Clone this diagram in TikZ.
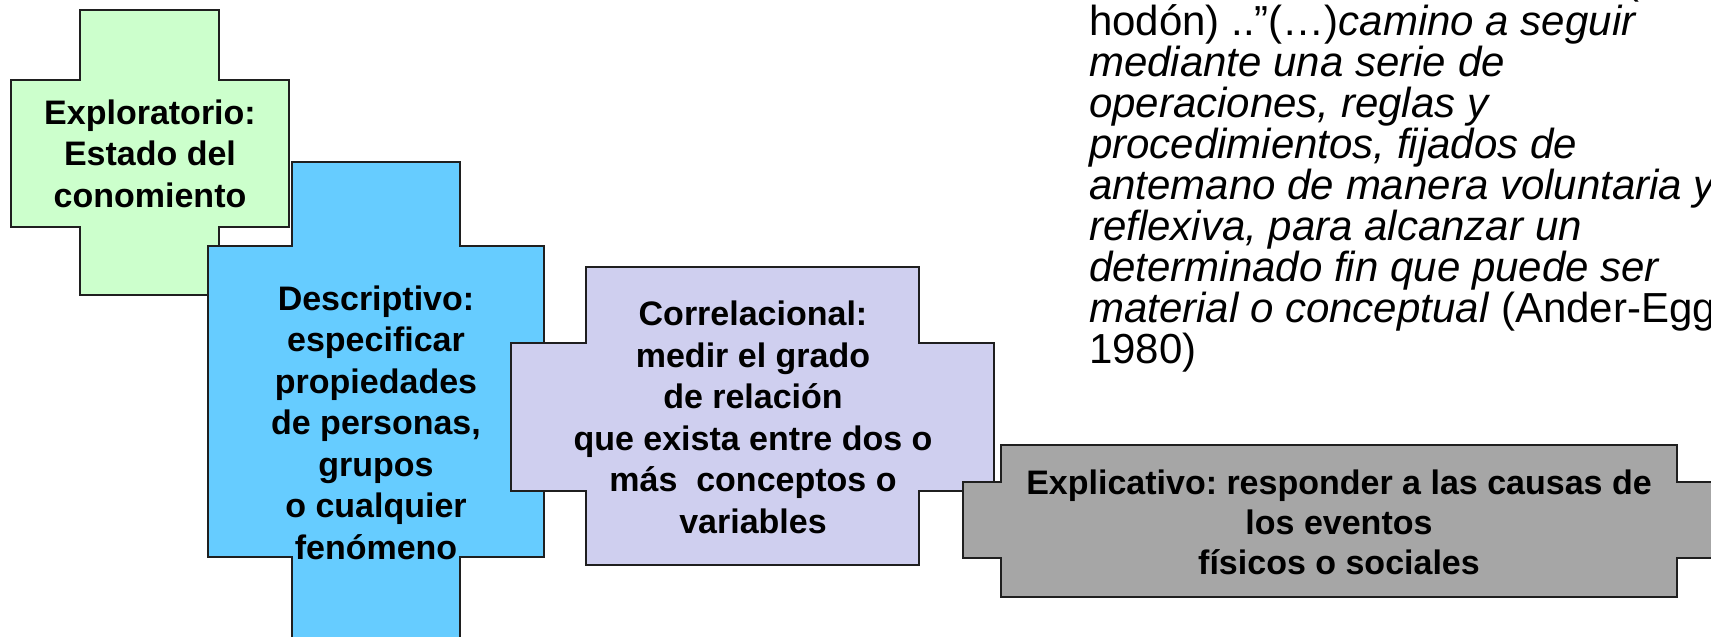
\documentclass[tikz,border=0pt]{standalone}
\usepackage{fontspec}
\setmainfont{Liberation Sans}
\usetikzlibrary{positioning}
\frenchspacing

\definecolor{verdeclaro}{HTML}{CCFFCC}
\definecolor{celeste}{HTML}{66CCFF}
\definecolor{lavanda}{HTML}{CFCFEF}
\definecolor{grismedio}{HTML}{A6A6A6}

% cruz: estilo, barra vertical (x1,x2,y1,y2), barra horizontal (x1,x2,y1,y2)
\newcommand{\cruz}[9]{%
  \draw[#1] (#2,#4) -- (#3,#4) -- (#3,#8) -- (#7,#8) -- (#7,#9) -- (#3,#9) -- (#3,#5)
    -- (#2,#5) -- (#2,#9) -- (#6,#9) -- (#6,#8) -- (#2,#8) -- cycle;
}
\newcommand{\apretado}{\lineskiplimit=-100pt\relax}

\tikzset{
  forma/.style={draw=black!88, line width=1.6pt, line join=miter},
  etiqueta/.style={font=\bfseries\fontsize{34}{41.5}\selectfont\apretado, align=center, inner sep=0pt, anchor=base},
  cita/.style={font=\fontsize{42}{41}\selectfont\apretado, align=left, inner sep=0pt, anchor=base west},
}

\begin{document}
\begin{tikzpicture}[x=1pt,y=-1pt]
\useasboundingbox (0,0) rectangle (1711,637);
\clip (0,0) rectangle (1711,637);

% las cuatro cruces
\cruz{forma,fill=verdeclaro}{80}{219}{10}{295}{11}{289}{80}{227}
\cruz{forma,fill=celeste}{292}{460}{162}{680}{208}{544}{246}{557}
\cruz{forma,fill=lavanda}{586}{919}{267}{565}{511}{994}{343}{491}
\cruz{forma,fill=grismedio}{1001}{1677}{445}{597}{963}{1760}{482}{558}

% textos (el ancla base queda en la ultima linea)
\node[etiqueta] (exploratorio) at (150,207) {Exploratorio:\\Estado del\\conomiento};
\node[etiqueta] (descriptivo) at (376,559) {Descriptivo:\\especificar\\propiedades\\de personas,\\grupos\\o cualquier\\fenómeno};
\node[etiqueta] (correlacional) at (753,533) {Correlacional:\\medir el grado\\de relación\\que exista entre dos o\\más\ \ conceptos o\\variables};
\node[etiqueta, font=\bfseries\fontsize{34}{40}\selectfont\apretado] (explicativo) at (1339,574) {Explicativo: responder a las causas de\\los eventos\\físicos o sociales};

\node[cita] (parentesis) at (1625,-6) {(};
\node[cita] (cita) at (1089,363) {hodón) ..”(…)\textit{camino a seguir}\\
  \textit{mediante una serie de}\\
  \textit{operaciones, reglas y}\\
  \textit{procedimientos, fijados de}\\
  \textit{antemano de manera voluntaria y}\\
  \textit{reflexiva, para alcanzar un}\\
  \textit{determinado fin que puede ser}\\
  \textit{material o conceptual} (Ander-Egg\\
  1980)};
\end{tikzpicture}
\end{document}
